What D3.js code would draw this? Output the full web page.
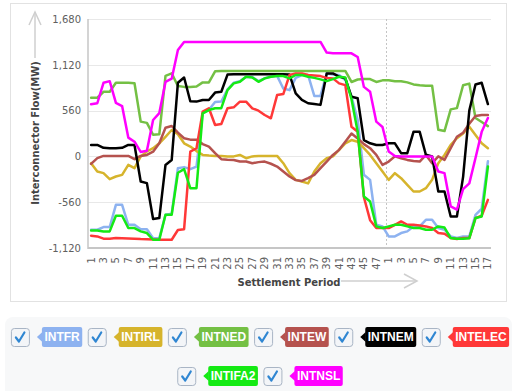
<!DOCTYPE html>
<html><head><meta charset="utf-8">
<script src="https://cdn.jsdelivr.net/npm/d3@7"></script>
<style>
body{margin:0;background:#fff;}
svg{display:block;font-family:"DejaVu Sans",Verdana,sans-serif;}
</style>
</head><body>
<svg id="c" width="518" height="391"></svg>
<script>
const periods = ["1","2","3","4","5","6","7","8","9","10","11","12","13","14","15","16","17","18","19","20","21","22","23","24","25","26","27","28","29","30","31","32","33","34","35","36","37","38","39","40","41","42","43","44","45","46","47","48","1","2","3","4","5","6","7","8","9","10","11","12","13","14","15","16","17"];
const yTicks = [-1120, -560, 0, 560, 1120, 1680];
const seriesNames = ["INTFR","INTIRL","INTNED","INTEW","INTNEM","INTELEC","INTIFA2","INTNSL"];
const seriesColors = ["#8db2f0","#d6b42c","#74c044","#b5524e","#000000","#ff3838","#14ea14","#ff00ff"];

const INTFR = [-897,-897,-864,-864,-592,-592,-836,-836,-890,-890,
 -1000,-1000,-714,-700,-144,-131,-156,-124,530,570,
 665,670,820,900,920,975,970,920,955,975,
 985,830,810,960,995,995,740,740,1015,1000,
 995,935,730,445,-225,-287,-836,-856,-978,-978,
 -937,-917,-856,-856,-775,-775,-876,-897,-978,-998,
 -978,-978,-714,-640,-60];
const INTIRL = [-83,-185,-205,-278,-246,-226,-104,-144,0,60,
 100,160,240,323,270,160,120,65,18,10,
 6,6,0,0,18,-22,0,6,6,6,
 6,-83,-205,-287,-307,-330,-185,-83,-22,0,
 80,160,200,180,100,18,-83,-185,-287,-205,
 -266,-348,-429,-429,-388,-287,-83,18,140,222,
 280,363,262,160,100];
const INTNED = [717,717,790,790,900,900,900,895,425,410,
 265,270,985,1015,860,850,850,855,905,905,
 1040,1045,1045,1045,1045,1045,1045,1045,1045,1045,
 1045,1045,1045,1045,1045,1045,1045,1045,1045,1045,
 1045,1045,910,940,945,945,910,930,930,920,
 920,905,880,870,865,865,325,310,575,590,
 870,890,470,420,370];
const INTEW = [-92,-22,6,6,6,6,6,-34,6,18,
 58,160,350,372,290,222,205,205,150,120,
 39,-34,-40,-43,-63,-63,-83,-70,-63,-90,
 -124,-185,-246,-290,-300,-266,-226,-144,-63,18,
 80,180,280,220,150,100,18,-104,-63,0,
 -22,-43,-55,-63,18,-83,0,-43,100,240,
 290,400,494,506,506];
const INTNEM = [140,140,105,100,100,105,140,140,-307,-327,
 -766,-754,-104,-43,900,965,675,670,690,690,
 780,790,1000,1005,1005,1005,1005,1005,1005,1005,
 1005,1005,1000,770,690,650,640,630,1015,1015,
 975,955,730,710,200,160,140,140,160,160,
 40,40,300,300,20,0,-430,-430,-735,-735,
 -250,560,880,900,640];
const INTELEC = [-970,-978,-1006,-1006,-998,-1000,-1003,-1006,-1010,-1012,
 -1015,-1019,-1019,-1019,-900,-890,58,100,547,588,
 384,396,588,600,669,669,588,559,506,466,
 750,762,995,1015,1015,995,990,982,960,954,
 893,872,363,302,-500,-780,-876,-876,-876,-836,
 -795,-836,-836,-845,-856,-876,-937,-945,-998,-1010,
 -998,-998,-754,-726,-531];
const INTIFA2 = [-905,-905,-917,-917,-726,-726,-876,-876,-917,-937,
 -1019,-1019,-714,-714,-200,-156,-388,-388,527,567,
 588,590,811,893,912,974,966,912,954,974,
 982,982,954,995,995,974,960,942,920,945,
 974,965,700,300,-490,-551,-856,-876,-856,-836,
 -836,-856,-876,-876,-897,-897,-856,-870,-998,-1006,
 -1006,-1000,-754,-734,-124];
const INTNSL = [637,650,900,920,655,615,230,180,55,70,
 445,530,910,950,1300,1400,1400,1400,1400,1400,
 1400,1400,1400,1400,1400,1400,1400,1400,1400,1400,
 1400,1400,1400,1400,1400,1400,1400,1400,1270,1260,
 1260,1260,1260,1215,850,790,425,360,60,5,
 0,0,0,0,0,0,-185,-205,-610,-650,
 -400,-330,-20,300,470];

const seriesValues = [INTFR, INTIRL, INTNED, INTEW, INTNEM, INTELEC, INTIFA2, INTNSL];

const svg = d3.select("#c");
const L = 88, R = 491, T = 19, B = 248;
const keys = periods.map((p, i) => i);
const x = d3.scaleBand().domain(keys).range([L, R]);
const bw = x.bandwidth();
const y = d3.scaleLinear().domain([-1120, 1680]).range([B, T]);

// outer box
svg.append("rect").attr("x", 10.5).attr("y", 3.5).attr("width", 496).attr("height", 298)
  .attr("fill", "none").attr("stroke", "#e2e2e2");

// gridlines
svg.append("g").selectAll("line").data(yTicks.filter(d => d !== -1120)).join("line")
  .attr("x1", L).attr("x2", R).attr("y1", d => Math.round(y(d)) + 0.5).attr("y2", d => Math.round(y(d)) + 0.5)
  .attr("stroke", "#e8e8e8");

// day separator
svg.append("line").attr("x1", Math.round(x(48)) + 0.5).attr("x2", Math.round(x(48)) + 0.5)
  .attr("y1", T).attr("y2", B).attr("stroke", "#c4c4c4").attr("stroke-dasharray", "2,2");

// axes lines
svg.append("line").attr("x1", L).attr("x2", L).attr("y1", T).attr("y2", B + 1).attr("stroke", "#c6c6c6").attr("stroke-width", 1.5);
svg.append("line").attr("x1", L).attr("x2", R).attr("y1", B).attr("y2", B).attr("stroke", "#c6c6c6").attr("stroke-width", 2);

// y axis
const fmt = d3.format(",");
const yAxis = svg.append("g").attr("transform", `translate(${L},0)`)
  .call(d3.axisLeft(y).tickValues(yTicks).tickSize(0).tickPadding(7).tickFormat(d => fmt(d).replace("\u2212", "-")));
yAxis.select(".domain").remove();
yAxis.selectAll("text").attr("font-size", 10).attr("font-family", "DejaVu Sans, Verdana, sans-serif").attr("fill", "#606060");

// x axis
const xAxis = svg.append("g").attr("transform", `translate(0,${B})`)
  .call(d3.axisBottom(x).tickValues(keys.filter((k, i) => i % 2 === 0)).tickSize(0).tickFormat(i => periods[i]));
xAxis.select(".domain").remove();
xAxis.selectAll("text").attr("font-size", 10).attr("font-family", "DejaVu Sans, Verdana, sans-serif").attr("fill", "#606060")
  .attr("transform", "rotate(-90)").attr("x", -9).attr("y", 0).attr("dy", "0.35em").style("text-anchor", "end");

// axis titles
svg.append("text").attr("transform", "translate(35,133) rotate(-90)").attr("text-anchor", "middle")
  .attr("dominant-baseline", "central").attr("font-size", 10).attr("font-weight", "bold").attr("fill", "#444")
  .text("Interconnector Flow(MW)");
svg.append("line").attr("x1", 35).attr("x2", 35).attr("y1", 58).attr("y2", 12).attr("stroke", "#cfcfcf").attr("stroke-width", 1.5);
svg.append("polyline").attr("points", "29,25 35,12 41,25").attr("fill", "none").attr("stroke", "#cfcfcf").attr("stroke-width", 1.5);

svg.append("text").attr("x", 289).attr("y", 282).attr("text-anchor", "middle")
  .attr("dominant-baseline", "central").attr("font-size", 10).attr("font-weight", "bold").attr("fill", "#444")
  .text("Settlement Period");
svg.append("line").attr("x1", 341).attr("x2", 417).attr("y1", 281).attr("y2", 281).attr("stroke", "#cfcfcf").attr("stroke-width", 1.5);
svg.append("polyline").attr("points", "404,274 417,281 404,288").attr("fill", "none").attr("stroke", "#cfcfcf").attr("stroke-width", 1.5);

// series lines
const line = d3.line().x((v, i) => x(keys[i]) + bw / 2).y(v => y(v));
svg.append("g").selectAll("path").data(seriesValues).join("path")
  .attr("d", d => line(d)).attr("fill", "none")
  .attr("stroke", (d, i) => seriesColors[i]).attr("stroke-width", 2.5)
  .attr("stroke-linejoin", "round").attr("stroke-linecap", "round");

// legend
const leg = svg.append("g");
leg.append("rect").attr("x", 5).attr("y", 317).attr("width", 507).attr("height", 90).attr("rx", 8).attr("fill", "#f7f8f9");
const tagFont = "Liberation Sans, Arial, sans-serif";
const items = seriesNames.map((n, i) => {
  const t = leg.append("text").attr("font-family", tagFont).attr("font-weight", "bold").attr("font-size", 12).text(n);
  const tw = t.node().getComputedTextLength();
  t.remove();
  return { n, c: seriesColors[i], tw, w: 18 + 8 + 5 + tw + 5 };
});
const gap = 5.5, maxW = 508;
const rows = [[]];
let cur = 0;
items.forEach(it => {
  const r = rows[rows.length - 1];
  const add = (r.length ? gap : 0) + it.w;
  if (cur + add > maxW) { rows.push([it]); cur = it.w; }
  else { r.push(it); cur += add; }
});
const rowCY = [337, 376];
rows.forEach((r, ri) => {
  const tot = d3.sum(r, d => d.w) + gap * (r.length - 1);
  let xx = 260 - tot / 2;
  const cy = rowCY[ri];
  r.forEach(it => {
    const g = leg.append("g");
    g.append("rect").attr("x", xx + 0.5).attr("y", cy - 9 + 0.5).attr("width", 18).attr("height", 18).attr("rx", 3)
      .attr("fill", "#f3f5f8").attr("stroke", "#a9b5c5");
    g.append("path").attr("d", `M${xx + 5},${cy + 0.5} L${xx + 8},${cy + 4.5} L${xx + 13.5},${cy - 4.5}`)
      .attr("fill", "none").attr("stroke", "#2f86d2").attr("stroke-width", 2.2).attr("stroke-linecap", "round").attr("stroke-linejoin", "round");
    const tx = xx + 18 + 8;
    g.append("path").attr("d", `M${tx},${cy} L${tx + 5.5},${cy - 5} L${tx + 5.5},${cy + 5} Z`).attr("fill", it.c);
    g.append("rect").attr("x", tx + 5).attr("y", cy - 10).attr("width", it.tw + 5).attr("height", 20).attr("rx", 2).attr("fill", it.c);
    g.append("text").attr("x", tx + 7.5).attr("y", cy + 4.3).attr("font-family", tagFont).attr("font-weight", "bold")
      .attr("font-size", 12).attr("fill", "#fff").text(it.n);
    xx += it.w + gap;
  });
});
</script>
</body></html>
